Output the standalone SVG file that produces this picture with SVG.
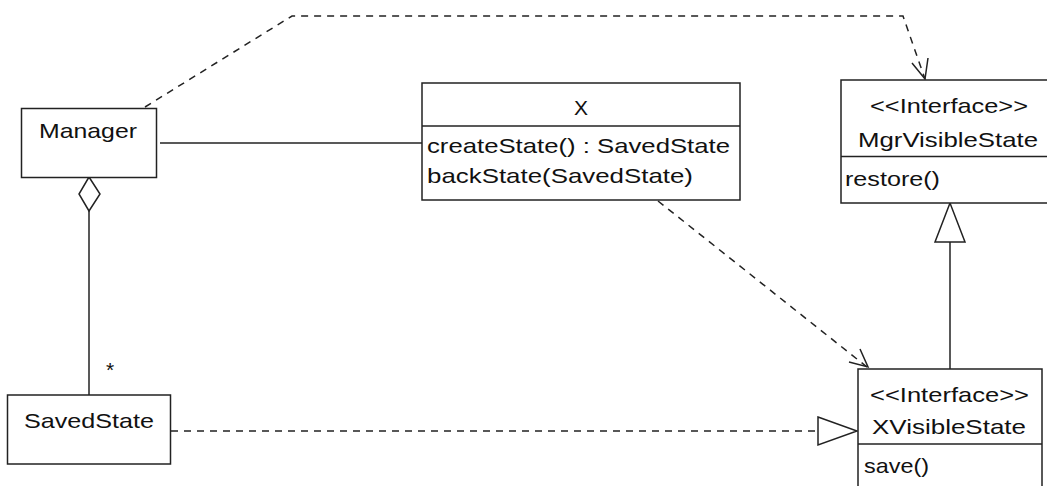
<svg xmlns="http://www.w3.org/2000/svg" width="1047" height="486" viewBox="0 0 1047 486">
<style>
.box{fill:#fff;stroke:#222;stroke-width:1.5}
.ln{fill:none;stroke:#222;stroke-width:1.5}
.dash{fill:none;stroke:#222;stroke-width:1.5;stroke-dasharray:7 6}
.head{fill:#fff;stroke:#222;stroke-width:1.5}
text{font-family:"Liberation Sans",Arial,sans-serif;font-size:21px;fill:#111}
</style>
<rect width="1047" height="486" fill="#fff"/>
<g id="connectors">
<line class="ln" x1="160" y1="143" x2="422" y2="143"/>
<line class="ln" x1="89" y1="211" x2="89" y2="395"/>
<polygon class="head" points="89,177 100,194 89,211 79,194"/>
<polyline class="dash" points="145,107 292,16 903,16 925,79"/>
<path class="ln" d="M912,63 L925,79 L928,58"/>
<line class="dash" x1="658" y1="201" x2="867" y2="367"/>
<path class="ln" d="M849,362 L868,367 L860,349"/>
<line class="ln" x1="950" y1="242" x2="950" y2="369"/>
<polygon class="head" points="950,203 935,242 965,242"/>
<line class="dash" x1="171" y1="431" x2="818" y2="431"/>
<polygon class="head" points="818,417 857,431 818,445"/>
<text x="106" y="377">*</text>
</g>
<g id="Manager">
<rect class="box" x="21.5" y="108.5" width="135" height="69"/>
<text x="39" y="138" textLength="98" lengthAdjust="spacingAndGlyphs">Manager</text>
</g>
<g id="X">
<rect class="box" x="422" y="83" width="318" height="117"/>
<line class="ln" x1="422" y1="126" x2="740" y2="126"/>
<text x="581" y="115" text-anchor="middle">X</text>
<text x="427" y="153" textLength="303" lengthAdjust="spacingAndGlyphs">createState() : SavedState</text>
<text x="427" y="183" textLength="266" lengthAdjust="spacingAndGlyphs">backState(SavedState)</text>
</g>
<g id="MgrVisibleState">
<rect class="box" x="841" y="80" width="215" height="123"/>
<line class="ln" x1="841" y1="156.5" x2="1056" y2="156.5"/>
<text x="870" y="113" textLength="158" lengthAdjust="spacingAndGlyphs">&lt;&lt;Interface&gt;&gt;</text>
<text x="858" y="147" textLength="180" lengthAdjust="spacingAndGlyphs">MgrVisibleState</text>
<text x="845" y="186" textLength="95" lengthAdjust="spacingAndGlyphs">restore()</text>
</g>
<g id="XVisibleState">
<rect class="box" x="858" y="369" width="184" height="130"/>
<line class="ln" x1="858" y1="444" x2="1042" y2="444"/>
<text x="870" y="402" textLength="159" lengthAdjust="spacingAndGlyphs">&lt;&lt;Interface&gt;&gt;</text>
<text x="872" y="434" textLength="154" lengthAdjust="spacingAndGlyphs">XVisibleState</text>
<text x="864" y="473" textLength="65" lengthAdjust="spacingAndGlyphs">save()</text>
</g>
<g id="SavedState">
<rect class="box" x="7.5" y="395" width="163" height="69"/>
<text x="24" y="428" textLength="130" lengthAdjust="spacingAndGlyphs">SavedState</text>
</g>
</svg>
